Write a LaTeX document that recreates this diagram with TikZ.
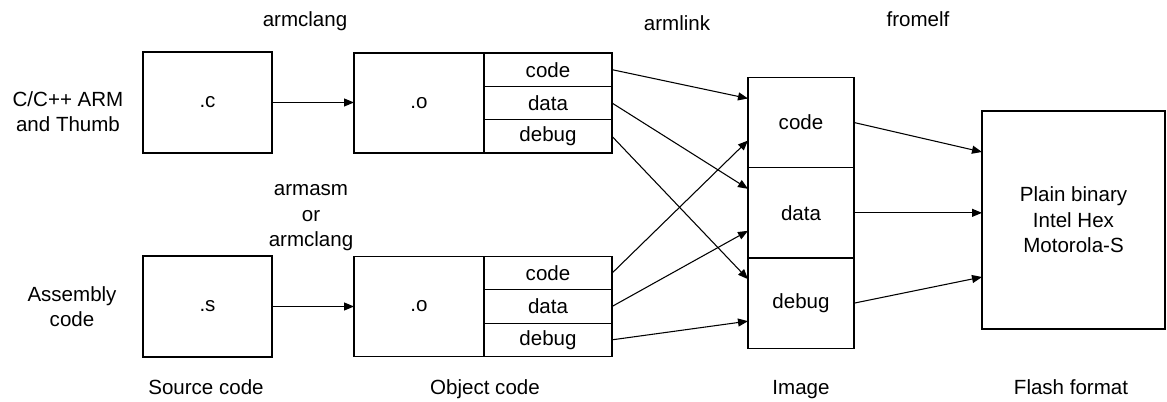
\documentclass[tikz,border=0pt]{standalone}
\usepackage{fontspec}
\setmainfont{Liberation Sans}
\usepackage{tikz}
\usetikzlibrary{shapes,arrows.meta,calc,positioning}
\tikzstyle{line} = [draw, -{Triangle[length=7.5pt,width=6pt]}]
\tikzstyle{block} = [draw, rectangle, text centered, inner sep=0pt, outer sep=0pt]
\tikzstyle{field} = [block, minimum width=96pt, minimum height=25pt]
\tikzstyle{section} = [block, minimum width=79.5pt, minimum height=67.75pt]
\tikzstyle{note} = [align=center, inner sep=0pt]

\begin{document}
\begin{tikzpicture}[x=0.75pt, y=-0.75pt, line width=0.8pt, node distance=0pt,
    font=\fontsize{15.4}{19.1}\selectfont]
        \useasboundingbox (0,0) rectangle (1167,402);
        % sources
        \node[block, minimum width=96.75pt, minimum height=75.75pt] at (207.5,102.5) (csrc) {.c};
        \node[block, minimum width=96.75pt, minimum height=75.75pt] at (207.5,306.5) (ssrc) {.s};
        % objects
        \node[block, minimum width=97.5pt, minimum height=75pt] at (419,103) (cobj) {.o};
        \node[field, anchor=north west] at (cobj.north east) (ccode) {code};
        \node[field, below=of ccode] (cdata) {data};
        \node[field, below=of cdata] (cdebug) {debug};
        \node[block, minimum width=97.5pt, minimum height=75pt] at (419,306.5) (sobj) {.o};
        \node[field, anchor=north west] at (sobj.north east) (scode) {code};
        \node[field, below=of scode] (sdata) {data};
        \node[field, below=of sdata] (sdebug) {debug};
        % image
        \node[section] at (801,122.5) (icode) {code};
        \node[section, below=of icode] (idata) {data};
        \node[section, below=of idata] (idebug) {debug};
        % flash
        \node[block, minimum width=137.25pt, minimum height=163.5pt, align=center] at (1073.5,220) (flash) {Plain binary\\Intel Hex\\Motorola-S};
        % tools and captions
        \node[note, anchor=base] at (305,27) (tclang) {armclang};
        \node[note, anchor=base] at (677,30.5) (tlink) {armlink};
        \node[note, anchor=base] at (918,26.7) (telf) {fromelf};
        \node[note] at (311,218) (tasm) {armasm\\or\\armclang};
        \node[note] at (68,111.5) (tc) {C/C++ ARM\\and Thumb};
        \node[note] at (72,306.8) (ts) {Assembly\\code};
        \node[note, anchor=base] at (206,395) (tsrc) {Source code};
        \node[note, anchor=base] at (485,395) (tobjc) {Object code};
        \node[note, anchor=base] at (801,394) (timg) {Image};
        \node[note, anchor=base] at (1071,394) (tflash) {Flash format};
        % connectors
        \path[line] (csrc.east) -- (csrc.east -| cobj.west);
        \path[line] (ssrc.east) -- (ssrc.east -| sobj.west);
        \path[line] (ccode.east) -- ($(icode.west)+(0,-24)$);
        \path[line] (cdata.east) -- ($(idata.west)+(0,-24)$);
        \path[line] (cdebug.east) -- ($(idebug.west)+(0,-24)$);
        \path[line] (scode.east) -- ($(icode.west)+(0,18)$);
        \path[line] (sdata.east) -- ($(idata.west)+(0,18)$);
        \path[line] (sdebug.east) -- ($(idebug.west)+(0,18)$);
        \path[line] (icode.east) -- ($(flash.west)+(0,-68)$);
        \path[line] (idata.east) -- (idata.east -| flash.west);
        \path[line] (idebug.east) -- ($(flash.west)+(0,57)$);
    \end{tikzpicture}
\end{document}
